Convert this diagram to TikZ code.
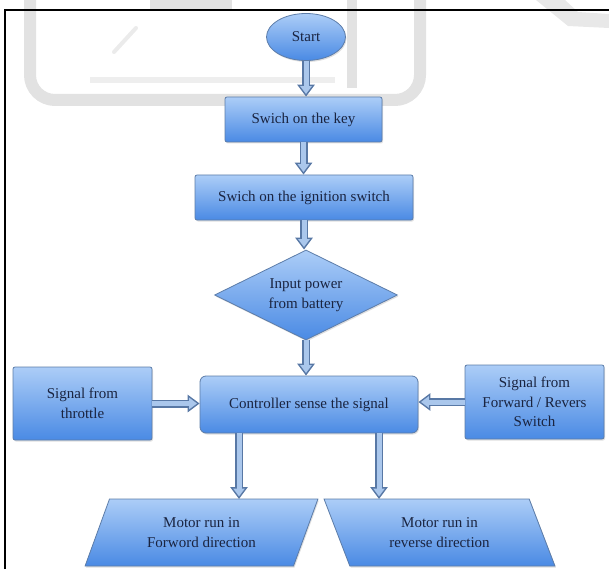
\documentclass[tikz,border=0pt]{standalone}
\usepackage{fontspec}
\setmainfont{Liberation Serif}
\usetikzlibrary{shapes.geometric,arrows.meta,shadows}
\definecolor{BoxTop}{RGB}{172,205,247}
\definecolor{BoxBot}{RGB}{74,138,228}
\definecolor{BoxEdge}{RGB}{92,124,168}
\definecolor{TxtClr}{RGB}{26,36,64}
\definecolor{ArrEdge}{RGB}{88,120,165}
\definecolor{ArrFill}{RGB}{170,199,236}
\definecolor{MarkClr}{RGB}{226,226,226}

\tikzset{
  block/.style={draw=BoxEdge,line width=0.8pt,top color=BoxTop,bottom color=BoxBot,
    text=TxtClr,align=center,font=\fontsize{15}{19.5}\selectfont,inner sep=2pt,
    drop shadow={opacity=0.25,shadow xshift=1pt,shadow yshift=-1.5pt}},
  boxnode/.style={block,rectangle,rounded corners=2pt},
  arrowout/.style={draw=ArrEdge,line width=8pt,-{Triangle[width=17pt,length=12pt]}},
  arrowin/.style={draw=ArrFill,line width=5pt,-{Triangle[width=11.2pt,length=7.9pt]},shorten >=2.6pt},
}

\begin{document}
\begin{tikzpicture}[x=1pt,y=-1pt]

\useasboundingbox (0,0) rectangle (609,569);

% faint watermark
\draw[MarkClr,line width=12pt,rounded corners=25pt] (30,0) -- (30,100) -- (420,100) -- (420,0);
\draw[MarkClr,line width=10pt] (352,0) -- (352,88);
\draw[MarkClr!60,line width=6pt] (90,80) -- (335,80);
\draw[MarkClr,line width=10pt] (150,4) -- (232,4);
\draw[MarkClr!70,line width=4pt,line cap=round] (114,52) -- (136,28);
\fill[MarkClr!80] (536,0) -- (565,0) -- (578,12) -- (609,14) -- (609,28) -- (568,26) -- cycle;

% frame
\draw[line width=2pt] (5,569) -- (5,10) -- (609,10);

\node[block,ellipse,minimum width=79pt,minimum height=47pt,inner sep=0pt] (start) at (306,37) {Start};
\node[boxnode,minimum width=157pt,minimum height=45pt] (key) at (303.5,119.5) {Swich on the key};
\node[boxnode,minimum width=218pt,minimum height=45pt] (ign) at (304,197.5) {Swich on the ignition switch};
\node[block,diamond,aspect=2,minimum width=183pt,minimum height=90pt,inner sep=0pt] (batt) at (306,295) {Input power\\from battery};
\node[block,rectangle,rounded corners=6pt,minimum width=218pt,minimum height=57pt] (ctrl) at (309,404.5) {Controller sense the signal};
\node[boxnode,minimum width=139pt,minimum height=73pt] (thr) at (82.5,403.5) {Signal from\\throttle};
\node[boxnode,minimum width=139pt,minimum height=74pt] (dirsw) at (534.5,402) {Signal from\\Forward / Revers\\Switch};

\node[block,trapezium,trapezium left angle=64,trapezium right angle=116,trapezium stretches=true,
  minimum width=233pt,minimum height=67pt,inner sep=0pt] (mfwd) at (201.5,532.5) {Motor run in\\Forword direction};
\node[block,trapezium,trapezium left angle=116,trapezium right angle=64,trapezium stretches=true,
  minimum width=231pt,minimum height=67pt,inner sep=0pt] (mrev) at (439.5,532.5) {Motor run in\\reverse direction};

\coordinate (fwdin) at (239,499);
\coordinate (revin) at (379,499);

\foreach \st in {arrowout,arrowin}{
  \draw[\st] (start.south) -- (start.south |- key.north);
  \draw[\st] (key.south) -- (key.south |- ign.north);
  \draw[\st] (ign.south) -- (ign.south |- batt.north);
  \draw[\st] (batt.south) -- (batt.south |- ctrl.north);
  \draw[\st] (thr.east) -- (thr.east -| ctrl.west);
  \draw[\st] (dirsw.west) -- (dirsw.west -| ctrl.east);
  \draw[\st] (ctrl.south -| fwdin) -- (fwdin);
  \draw[\st] (ctrl.south -| revin) -- (revin);
}

\end{tikzpicture}
\end{document}
